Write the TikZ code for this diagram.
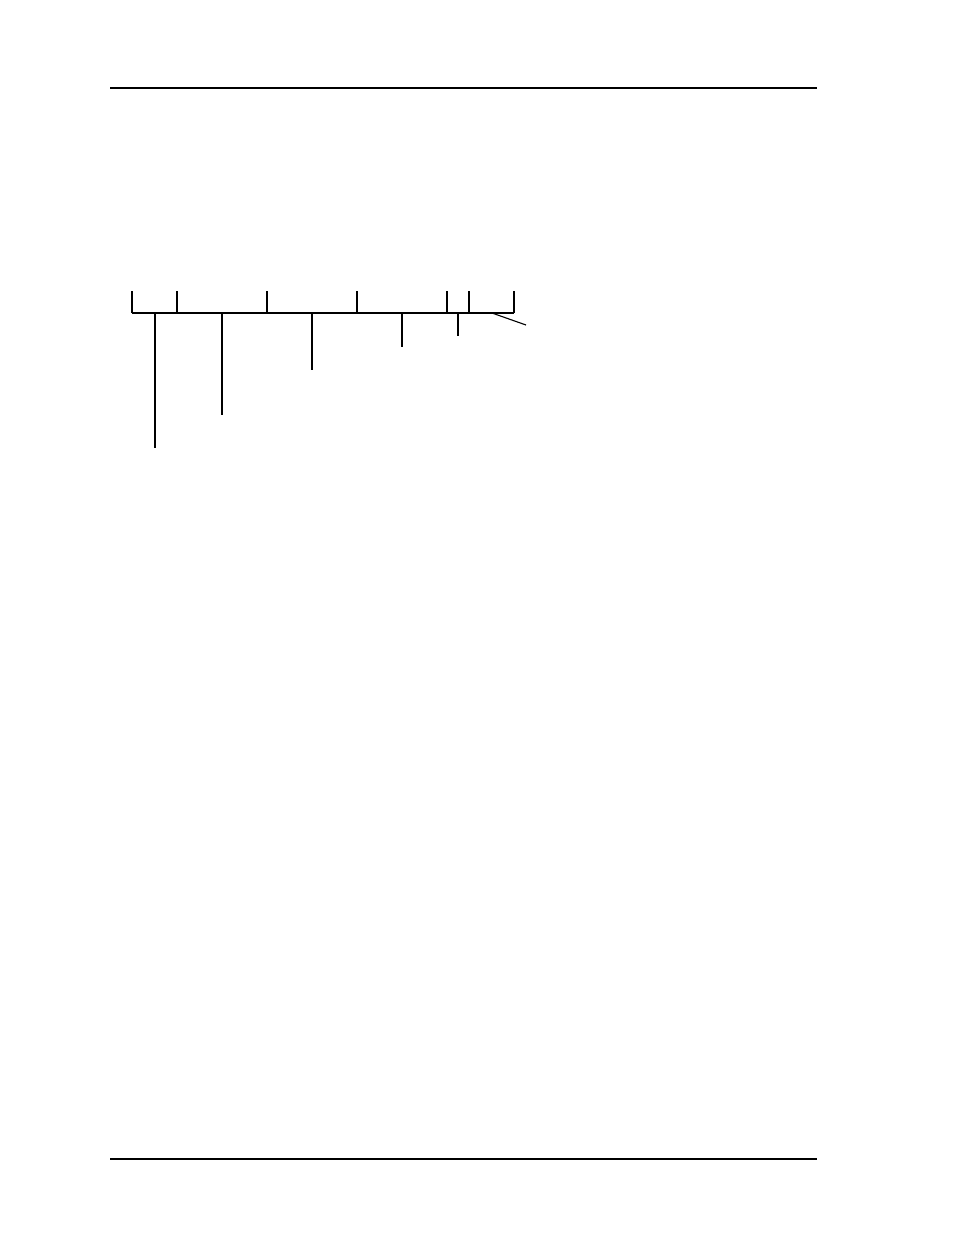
\documentclass[tikz,border=0pt]{standalone}
\begin{document}
\begin{tikzpicture}[x=1pt,y=-1pt,
  rule/.style={line width=2.6pt},
  thin/.style={line width=1.1pt}]
\useasboundingbox (0,0) rectangle (954,1235);
\fill[white] (0,0) rectangle (954,1235);
% page rules
\draw[rule] (110,88) -- (817,88);
\draw[rule] (110,1159) -- (817,1159);
% baseline coordinates
\coordinate (b0) at (132,313);
\coordinate (b7) at (514,313);
% field dividers (ticks up)
\foreach \x [count=\i] in {132,177,267,357,447,469,514}
  \draw[thin] (\x,313) -- (\x,291);
\draw[thin] (b0) -- (b7);
% leader lines down
\draw[thin] (155,313) -- (155,448);
\draw[thin] (222,313) -- (222,415);
\draw[thin] (312,313) -- (312,370);
\draw[thin] (402,313) -- (402,347);
\draw[thin] (458,313) -- (458,336);
\draw[thin] (492,313) -- (526,325);
\end{tikzpicture}
\end{document}
